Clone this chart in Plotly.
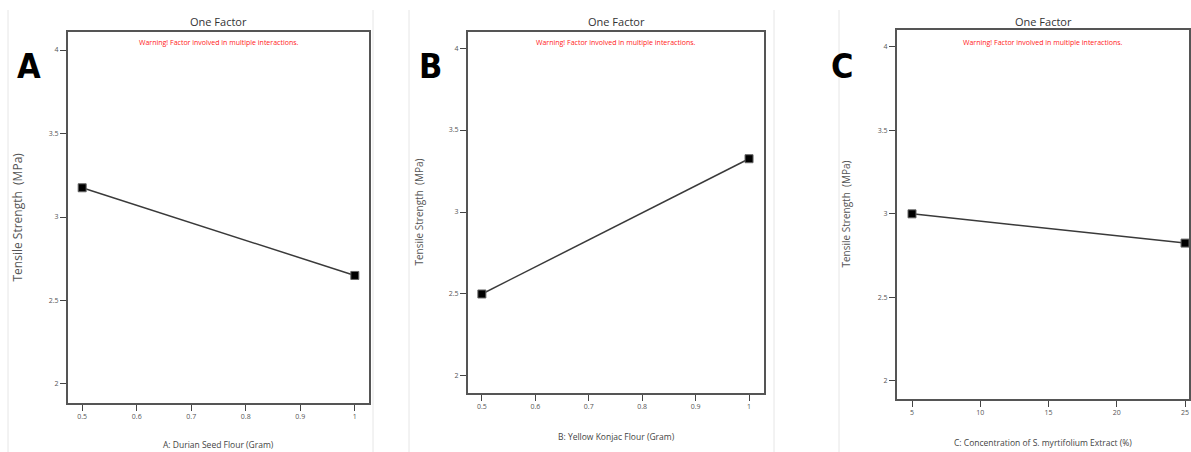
import plotly.graph_objects as go

# ---- data ----
x_A = [0.5, 1.0]
y_A = [3.175, 2.65]
x_B = [0.5, 1.0]
y_B = [2.50, 3.325]
x_C = [5, 25]
y_C = [3.00, 2.825]

xticks_AB = [0.5, 0.6, 0.7, 0.8, 0.9, 1]
xticklabels_AB = ["0.5", "0.6", "0.7", "0.8", "0.9", "1"]
xticks_C = [5, 10, 15, 20, 25]
xticklabels_C = ["5", "10", "15", "20", "25"]
yticks = [2, 2.5, 3, 3.5, 4]
yticklabels = ["2", "2.5", "3", "3.5", "4"]

x_titles = ["A: Durian Seed Flour (Gram)", "B: Yellow Konjac Flour (Gram)",
            "C: Concentration of S. myrtifolium Extract (%)"]
panel_letters = ["A", "B", "C"]
panel_title = "One Factor"
warning = "Warning! Factor involved in multiple interactions."
y_title = "Tensile Strength  (MPa)"

W, H = 1191, 452
FONT = "Open Sans, Noto Sans, sans-serif"

# pixel geometry of each panel's plot box: (left, top, right, bottom)
boxes = [(68, 32, 369, 403), (468, 32, 764, 393), (897, 30, 1189, 399)]
xranges = [[0.474, 1.026], [0.474, 1.028], [3.90, 25.29]]
yranges = [[1.886, 4.108], [1.896, 4.098], [1.892, 4.10]]
xs = [x_A, x_B, x_C]
ys = [y_A, y_B, y_C]
xtv = [xticks_AB, xticks_AB, xticks_C]
xtt = [xticklabels_AB, xticklabels_AB, xticklabels_C]
letter_pos = [(29, 66), (430, 66), (842, 66)]
ytitle_x = [17, 418, 845]
ytitle_size = [12, 10, 10]
xtitle_y = [444, 436, 442]

fig = go.Figure()
annotations = []
shapes = []


def ann(x, y, text, font, angle=0):
    return dict(x=x / W, y=1 - y / H, xref="paper", yref="paper", text=text,
                showarrow=False, xanchor="center", yanchor="middle",
                textangle=angle, font=font)


for i in range(3):
    l, t, r, b = boxes[i]
    n = "" if i == 0 else str(i + 1)
    xa, ya = "x" + n, "y" + n
    fig.add_trace(go.Scatter(
        x=xs[i], y=ys[i], xaxis=xa, yaxis=ya, mode="lines+markers",
        line=dict(color="#3a3a3a", width=1.5),
        marker=dict(symbol="square", size=8, color="black",
                    line=dict(color="#666", width=1)),
        showlegend=False, hoverinfo="x+y", cliponaxis=False))
    axis_common = dict(showgrid=False, zeroline=False, showline=True,
                       linecolor="#555", linewidth=2, mirror=True,
                       ticks="outside", ticklen=6, tickwidth=1,
                       tickcolor="#444",
                       tickfont=dict(family=FONT, size=7, color="#555"))
    fig.layout["xaxis" + n] = dict(
        domain=[l / W, r / W], range=xranges[i], anchor=ya,
        tickvals=xtv[i], ticktext=xtt[i], **axis_common)
    fig.layout["yaxis" + n] = dict(
        domain=[1 - b / H, 1 - t / H], range=yranges[i], anchor=xa,
        tickvals=yticks, ticktext=yticklabels, **axis_common)
    cx = (l + r) / 2
    annotations.append(ann(cx, 21, panel_title,
                           dict(family=FONT, size=11, color="#333")))
    annotations.append(ann(cx, 42, warning,
                           dict(family=FONT, size=7, color="#ff2020")))
    annotations.append(ann(ytitle_x[i], (t + b) / 2, y_title,
                           dict(family=FONT, size=ytitle_size[i], color="#555"), -90))
    annotations.append(ann(cx, xtitle_y[i], x_titles[i],
                           dict(family=FONT, size=8.5, color="#444")))
    lx, ly = letter_pos[i]
    annotations.append(ann(lx, ly, "<b>" + panel_letters[i] + "</b>",
                           dict(family="DejaVu Sans Condensed, Liberation Sans Narrow, sans-serif",
                                size=34, color="black")))

# faint borders of the three image panels
for px in [8, 373, 409, 774, 839]:
    shapes.append(dict(type="line", xref="paper", yref="paper",
                       x0=px / W, x1=px / W, y0=0, y1=1 - 10 / H,
                       line=dict(color="#e6e6e6", width=1)))

fig.update_layout(width=W, height=H, margin=dict(l=0, r=0, t=0, b=0),
                  paper_bgcolor="white", plot_bgcolor="white",
                  annotations=annotations, shapes=shapes)
fig.write_html("out.html", config={"displayModeBar": False},
               post_script="document.body.style.margin='0px';")
